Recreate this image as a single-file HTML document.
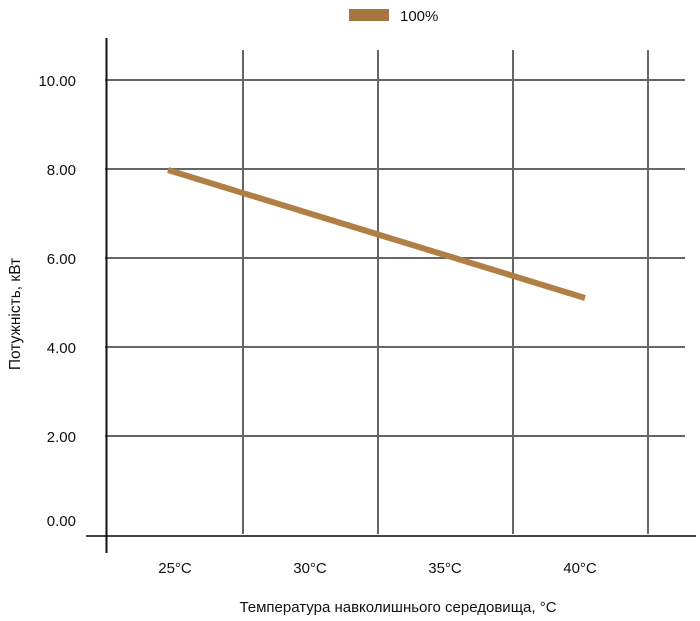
<!DOCTYPE html>
<html><head><meta charset="utf-8"><style>
body{margin:0;background:#fff;}
svg{display:block;font-family:"Liberation Sans",sans-serif;}
</style></head><body>
<svg width="700" height="621" viewBox="0 0 700 621">
<rect x="349" y="9" width="40" height="12" fill="#a6763f"/>
<text x="400" y="21" font-size="15" fill="#111">100%</text>
<g stroke="#666" stroke-width="2">
<line x1="105" y1="80" x2="685" y2="80"/>
<line x1="105" y1="169" x2="685" y2="169"/>
<line x1="105" y1="258" x2="685" y2="258"/>
<line x1="105" y1="347" x2="685" y2="347"/>
<line x1="105" y1="436" x2="685" y2="436"/>
<line x1="243" y1="50" x2="243" y2="534"/>
<line x1="378" y1="50" x2="378" y2="534"/>
<line x1="513" y1="50" x2="513" y2="534"/>
<line x1="648" y1="50" x2="648" y2="534"/>
</g>
<line x1="86" y1="536" x2="696" y2="536" stroke="#444" stroke-width="2"/>
<line x1="106.5" y1="38" x2="106.5" y2="553" stroke="#111" stroke-width="2"/>
<g font-size="15" fill="#111" text-anchor="end">
<text x="76" y="86">10.00</text>
<text x="76" y="175">8.00</text>
<text x="76" y="264">6.00</text>
<text x="76" y="353">4.00</text>
<text x="76" y="442">2.00</text>
<text x="76" y="526">0.00</text>
</g>
<g font-size="15" fill="#111" text-anchor="middle">
<text x="175" y="573">25°C</text>
<text x="310" y="573">30°C</text>
<text x="445" y="573">35°C</text>
<text x="580" y="573">40°C</text>
<text x="398" y="612">Температура навколишнього середовища, °C</text>
</g>
<text transform="translate(20,314) rotate(-90)" font-size="15.5" fill="#111" text-anchor="middle">Потужність, кВт</text>
<line x1="168" y1="170" x2="585" y2="298" stroke="#b07f45" stroke-width="6"/>
</svg>
</body></html>
